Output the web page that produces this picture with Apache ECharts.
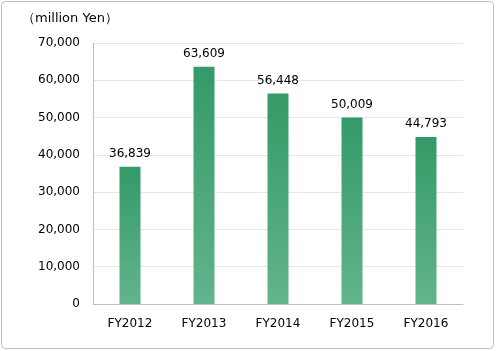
<!DOCTYPE html>
<html>
<head>
<meta charset="utf-8">
<script src="https://cdn.jsdelivr.net/npm/echarts@6/dist/echarts.min.js"></script>
<style>
  html, body { margin: 0; padding: 0; background: #fff; }
  #chart { width: 496px; height: 351px; }
</style>
</head>
<body>
<div id="chart"></div>
<script>
const categories = ['FY2012', 'FY2013', 'FY2014', 'FY2015', 'FY2016']
const sales = [36839, 63609, 56448, 50009, 44793]
const unitLabel = '（million Yen）'

const fmt = v => v.toLocaleString('en-US')

const chart = echarts.init(document.getElementById('chart'))
chart.setOption({
  animation: false,
  graphic: [{
    type: 'rect',
    shape: { x: 1.5, y: 1.5, width: 492, height: 347, r: 4 },
    style: { fill: 'none', stroke: '#bdbdbd', lineWidth: 1 }
  }, {
    type: 'text',
    left: 22,
    top: 12,
    style: { text: unitLabel, font: '13px "DejaVu Sans", sans-serif', fill: '#000' }
  }],
  grid: { left: 93, right: 33, top: 43, bottom: 47 },
  xAxis: {
    type: 'category',
    data: categories,
    axisLine: { lineStyle: { color: '#bfbfbf' } },
    axisTick: { show: false },
    axisLabel: { color: '#000', fontSize: 12, margin: 14, fontFamily: '"DejaVu Sans", sans-serif' }
  },
  yAxis: {
    type: 'value',
    min: 0,
    max: 70000,
    interval: 10000,
    axisLine: { show: true, lineStyle: { color: '#bfbfbf' } },
    axisTick: { show: false },
    splitLine: { lineStyle: { color: '#e6e6e6' } },
    axisLabel: { color: '#000', fontSize: 12, margin: 13, formatter: fmt, fontFamily: '"DejaVu Sans", sans-serif' }
  },
  series: [{
    type: 'bar',
    data: sales,
    barWidth: 21,
    itemStyle: {
      color: new echarts.graphic.LinearGradient(0, 0, 0, 1, [
        { offset: 0, color: '#349a67' },
        { offset: 1, color: '#62b48c' }
      ])
    },
    label: {
      show: true,
      position: 'top',
      distance: 7,
      color: '#000',
      fontSize: 12,
      fontFamily: '"DejaVu Sans", sans-serif',
      formatter: p => fmt(p.value)
    }
  }]
})
</script>
</body>
</html>
